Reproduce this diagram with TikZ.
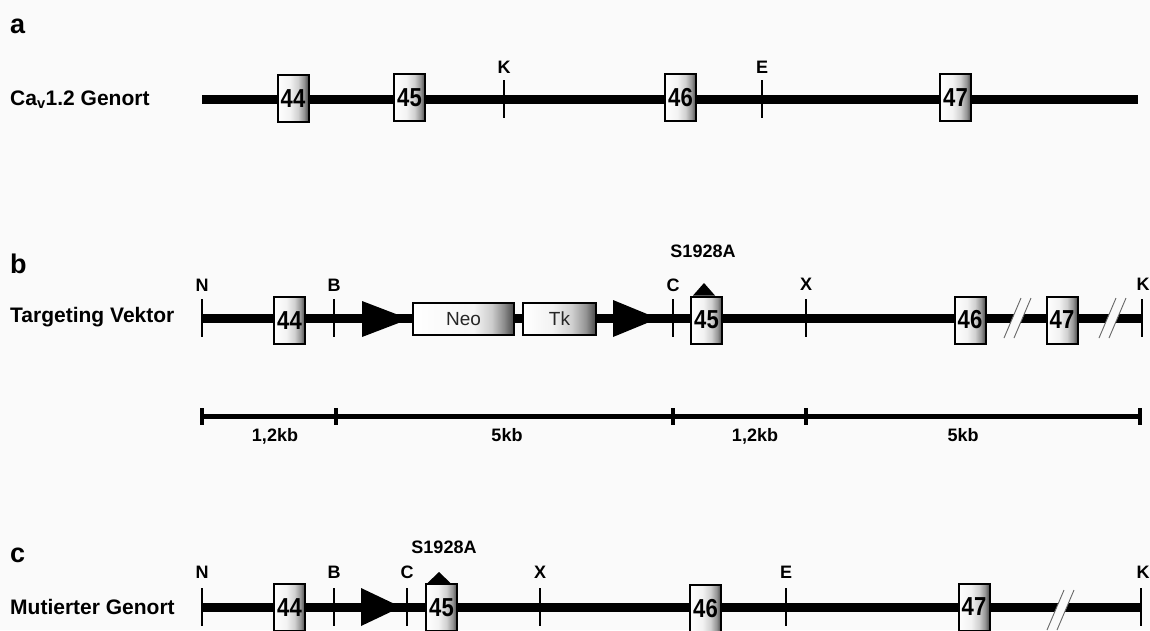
\documentclass[tikz,border=0pt]{standalone}
\usepackage{fontspec}
\setmainfont{Liberation Sans}
\usepackage{graphicx}
\definecolor{paper}{RGB}{250,250,250}
% exon / cassette fill: light on the left, darkening towards the right edge
\pgfdeclarehorizontalshading{exonshade}{100bp}{color(0bp)=(white); color(25bp)=(white); color(45bp)=(black!5); color(58bp)=(black!18); color(68bp)=(black!42); color(75bp)=(black!72); color(100bp)=(black!72)}
\pgfdeclarehorizontalshading{neoshade}{100bp}{color(0bp)=(white); color(25bp)=(white); color(55bp)=(black!4); color(64bp)=(black!20); color(70bp)=(black!45); color(75bp)=(black!72); color(100bp)=(black!72)}
\newcommand{\exnum}[1]{\scalebox{0.85}[1]{#1}}
\tikzset{
  bar/.style={line width=9pt},
  scalebar/.style={line width=4.5pt},
  exon/.style={rectangle, draw=black, line width=2pt, shading=exonshade,
    minimum width=31pt, minimum height=47pt, inner sep=0pt,
    font=\fontsize{26}{26}\selectfont\bfseries},
  cassette/.style={rectangle, draw=black, line width=2pt, inner sep=0pt,
    minimum height=32pt, font=\fontsize{19}{19}\selectfont, text=black!85},
  cut/.style={rectangle, fill=black, inner sep=0pt, minimum width=2.5pt, minimum height=38pt},
  sbtick/.style={rectangle, fill=black, inner sep=0pt, minimum width=4pt, minimum height=17pt},
  site/.style={anchor=base, inner sep=0pt, font=\fontsize{18}{18}\selectfont\bfseries},
  rowname/.style={anchor=base west, inner sep=0pt, font=\fontsize{21}{21}\selectfont\bfseries},
  panel/.style={anchor=base west, inner sep=0pt, font=\fontsize{27}{27}\selectfont\bfseries},
  slash/.style={line width=0.9pt, draw=black!60},
}
\begin{document}
\begin{tikzpicture}[x=1pt,y=-1pt]
\useasboundingbox (0,0) rectangle (1150,630);
\fill[paper] (0,0) rectangle (1150,630);
\clip (0,0) rectangle (1150,630);

% ---------------- a: wild-type locus ----------------
\node[panel] (pa) at (10,33) {a};
\node[rowname] (na) at (10,105.5) {Ca\textsubscript{v}1.2 Genort};
\coordinate (a0) at (202,99);
\coordinate (a1) at (1138,99);
\draw[bar] (a0) -- (a1);
\node[cut] (aK) at (504,99) {};
\node[cut] (aE) at (762,99) {};
\node[site] (aKt) at (504,73) {K};
\node[site] (aEt) at (762,73) {E};
\node[exon] (a44) at (293,98.5) {\exnum{44}};
\node[exon] (a45) at (409.5,97.5) {\exnum{45}};
\node[exon] (a46) at (680.5,97.5) {\exnum{46}};
\node[exon] (a47) at (955.5,97.5) {\exnum{47}};

% ---------------- b: targeting vector ----------------
\node[panel] (pb) at (10,273) {b};
\node[rowname] (nb) at (10,322) {Targeting Vektor};
\coordinate (b0) at (202,318);
\coordinate (b1) at (1142,318);
\draw[bar] (b0) -- (b1);
\node[cut] (bN) at (202,318) {};
\node[cut] (bB) at (334,318) {};
\node[cut] (bC) at (673,318) {};
\node[cut] (bX) at (806,318) {};
\node[cut] (bK) at (1142,318) {};
\node[site] (bNt) at (202,291) {N};
\node[site] (bBt) at (334,291) {B};
\node[site] (bCt) at (673,291) {C};
\node[site] (bXt) at (806,290) {X};
\node[site] (bKt) at (1143,290) {K};
% loxP sites
\fill (362,301) -- (362,337) -- (409,319) -- cycle;
\fill (613,300) -- (613,337) -- (658,318.5) -- cycle;
\node[cassette, minimum width=101pt, shading=neoshade] (neo) at (463.5,319) {Neo};
\node[cassette, minimum width=73pt, shading=exonshade] (tk) at (559.5,319) {Tk};
\node[exon] (b44) at (289.5,320.5) {\exnum{44}};
\node[exon] (b45) at (706.5,320) {\exnum{45}};
\node[exon] (b46) at (970,320) {\exnum{46}};
\node[exon] (b47) at (1062,320) {\exnum{47}};
% point mutation
\fill (693,295.5) -- (715,295.5) -- (704,283) -- cycle;
\node[site] (bmut) at (703,257) {S1928A};
% breaks in the sequence
\fill[paper] (1004,338) -- (1021,298) -- (1031,298) -- (1014,338) -- cycle;
\draw[slash] (1004,338) -- (1021,298);
\draw[slash] (1014,338) -- (1031,298);
\fill[paper] (1099,338) -- (1116,298) -- (1126,298) -- (1109,338) -- cycle;
\draw[slash] (1099,338) -- (1116,298);
\draw[slash] (1109,338) -- (1126,298);

% ---------------- scale bar ----------------
\coordinate (s0) at (202,416.5);
\coordinate (s4) at (1140,416.5);
\draw[scalebar] (s0) -- (s4);
\node[sbtick] (t0) at (202,416.5) {};
\node[sbtick] (t1) at (336,416.5) {};
\node[sbtick] (t2) at (673,416.5) {};
\node[sbtick] (t3) at (806,416.5) {};
\node[sbtick] (t4) at (1140,416.5) {};
\node[site] (l1) at (275,441) {1,2kb};
\node[site] (l2) at (507,441) {5kb};
\node[site] (l3) at (755,441) {1,2kb};
\node[site] (l4) at (963,441) {5kb};

% ---------------- c: mutated locus ----------------
\node[panel] (pc) at (10,562) {c};
\node[rowname] (nc) at (10,614.5) {Mutierter Genort};
\coordinate (c0) at (202,607);
\coordinate (c1) at (1141,607);
\draw[bar] (c0) -- (c1);
\node[cut] (cN) at (202,606.5) {};
\node[cut] (cB) at (334,606.5) {};
\node[cut] (cC) at (407,606.5) {};
\node[cut] (cX) at (540,606.5) {};
\node[cut] (cE) at (786,606.5) {};
\node[cut] (cK) at (1141,606.5) {};
\node[site] (cNt) at (202,578) {N};
\node[site] (cBt) at (334,578) {B};
\node[site] (cCt) at (407,578) {C};
\node[site] (cXt) at (540,578.5) {X};
\node[site] (cEt) at (786,578.5) {E};
\node[site] (cKt) at (1143,578.5) {K};
\fill (361,588) -- (361,626) -- (401,607) -- cycle;
\node[exon] (c44) at (289.5,607.5) {\exnum{44}};
\node[exon] (c45) at (441.5,607.5) {\exnum{45}};
\node[exon] (c46) at (705.5,608.5) {\exnum{46}};
\node[exon] (c47) at (974,607) {\exnum{47}};
\fill (427,583.5) -- (451,583.5) -- (439,572) -- cycle;
\node[site] (cmut) at (444,553) {S1928A};
\fill[paper] (1047,630) -- (1064,590) -- (1074,590) -- (1057,630) -- cycle;
\draw[slash] (1047,630) -- (1064,590);
\draw[slash] (1057,630) -- (1074,590);
\end{tikzpicture}
\end{document}
